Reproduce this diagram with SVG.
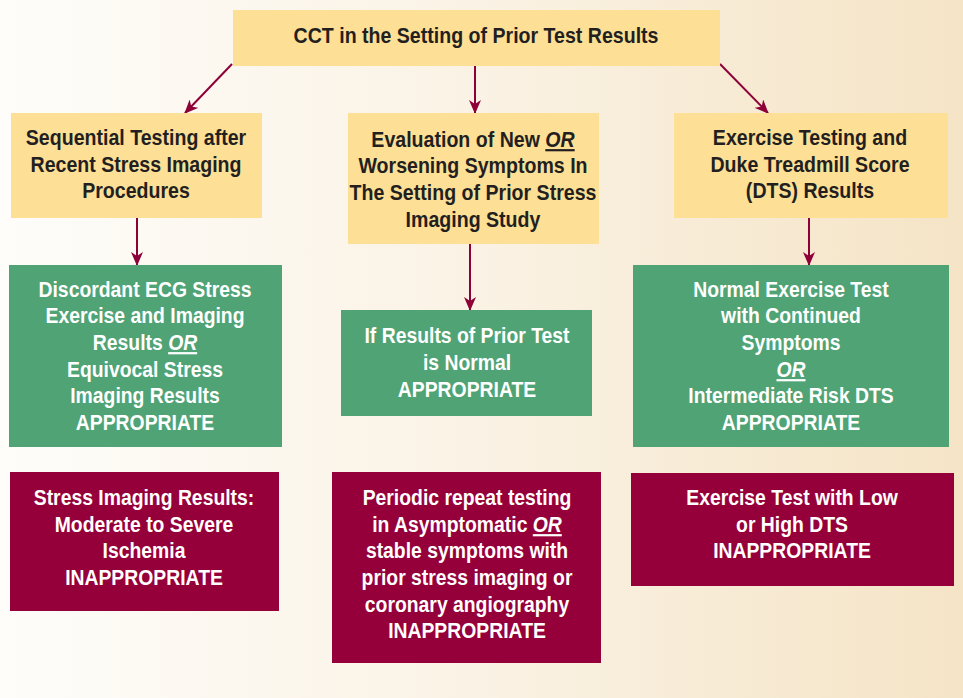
<svg xmlns="http://www.w3.org/2000/svg" width="963" height="698" viewBox="0 0 963 698">
<defs>
<linearGradient id="bg" x1="0" y1="0" x2="1" y2="0">
<stop offset="0" stop-color="#fefdfa"/>
<stop offset="0.5" stop-color="#faf2e4"/>
<stop offset="1" stop-color="#f5e4c6"/>
</linearGradient>
<marker id="ah" viewBox="0 0 14 12" refX="13" refY="6" markerWidth="14" markerHeight="12" markerUnits="userSpaceOnUse" orient="auto">
<path d="M0,0 L14,6 L0,12 L4,6 Z" fill="#8e0038"/>
</marker>
<style>
.y{fill:#fde096}
.g{fill:#4fa375}
.m{fill:#95003a}
text{font-family:"Liberation Sans",Arial,sans-serif;font-weight:bold;text-anchor:middle;font-size:22px}
.dk text{fill:#231f20}
.wt text{fill:#ffffff}
.or{font-style:italic;text-decoration:underline}
.c line{stroke:#8e0038;stroke-width:2;marker-end:url(#ah)}
</style>
</defs>
<rect width="963" height="698" fill="url(#bg)"/>
<g class="c" id="connectors">
<line x1="232" y1="64" x2="185" y2="113"/>
<line x1="475" y1="66" x2="475" y2="113"/>
<line x1="720" y1="64" x2="768" y2="113"/>
<line x1="137" y1="218" x2="137" y2="265"/>
<line x1="470" y1="244" x2="470" y2="310"/>
<line x1="809" y1="218" x2="809" y2="265"/>
</g>
<g id="top">
<rect class="y" x="233" y="10" width="487" height="56"/>
<g class="dk" transform="translate(476 0) scale(0.89 1)"><text x="0" y="43" font-size="24">CCT in the Setting of Prior Test Results</text></g>
</g>
<g id="seq">
<rect class="y" x="11" y="113" width="251" height="105"/>
<g class="dk" transform="translate(136 0) scale(0.89 1)">
<text x="0" y="145">Sequential Testing after</text>
<text x="0" y="172">Recent Stress Imaging</text>
<text x="0" y="198">Procedures</text>
</g>
</g>
<g id="eval">
<rect class="y" x="348" y="113" width="251" height="131"/>
<g class="dk" transform="translate(473 0) scale(0.89 1)">
<text x="0" y="147">Evaluation of New <tspan class="or">OR</tspan></text>
<text x="0" y="173">Worsening Symptoms In</text>
<text x="0" y="200">The Setting of Prior Stress</text>
<text x="0" y="227">Imaging Study</text>
</g>
</g>
<g id="exer">
<rect class="y" x="674" y="113" width="274" height="105"/>
<g class="dk" transform="translate(810 0) scale(0.89 1)">
<text x="0" y="145">Exercise Testing and</text>
<text x="0" y="172">Duke Treadmill Score</text>
<text x="0" y="198">(DTS) Results</text>
</g>
</g>
<g id="disc">
<rect class="g" x="9" y="265" width="273" height="182"/>
<g class="wt" transform="translate(145 0) scale(0.88 1)">
<text x="0" y="297">Discordant ECG Stress</text>
<text x="0" y="323">Exercise and Imaging</text>
<text x="0" y="350">Results <tspan class="or">OR</tspan></text>
<text x="0" y="377">Equivocal Stress</text>
<text x="0" y="403">Imaging Results</text>
<text x="0" y="430">APPROPRIATE</text>
</g>
</g>
<g id="normal">
<rect class="g" x="341" y="310" width="251" height="106"/>
<g class="wt" transform="translate(467 0) scale(0.88 1)">
<text x="0" y="343">If Results of Prior Test</text>
<text x="0" y="370">is Normal</text>
<text x="0" y="397">APPROPRIATE</text>
</g>
</g>
<g id="normex">
<rect class="g" x="633" y="265" width="316" height="182"/>
<g class="wt" transform="translate(791 0) scale(0.88 1)">
<text x="0" y="297">Normal Exercise Test</text>
<text x="0" y="323">with Continued</text>
<text x="0" y="350">Symptoms</text>
<text x="0" y="377" class="or">OR</text>
<text x="0" y="403">Intermediate Risk DTS</text>
<text x="0" y="430">APPROPRIATE</text>
</g>
</g>
<g id="stressimg">
<rect class="m" x="10" y="472" width="269" height="139"/>
<g class="wt" transform="translate(144 0) scale(0.88 1)">
<text x="0" y="505">Stress Imaging Results:</text>
<text x="0" y="532">Moderate to Severe</text>
<text x="0" y="558">Ischemia</text>
<text x="0" y="585">INAPPROPRIATE</text>
</g>
</g>
<g id="periodic">
<rect class="m" x="332" y="472" width="269" height="191"/>
<g class="wt" transform="translate(467 0) scale(0.88 1)">
<text x="0" y="505">Periodic repeat testing</text>
<text x="0" y="532">in Asymptomatic <tspan class="or">OR</tspan></text>
<text x="0" y="558">stable symptoms with</text>
<text x="0" y="585">prior stress imaging or</text>
<text x="0" y="612">coronary angiography</text>
<text x="0" y="638">INAPPROPRIATE</text>
</g>
</g>
<g id="lowhigh">
<rect class="m" x="631" y="473" width="323" height="113"/>
<g class="wt" transform="translate(792 0) scale(0.88 1)">
<text x="0" y="505">Exercise Test with Low</text>
<text x="0" y="532">or High DTS</text>
<text x="0" y="558">INAPPROPRIATE</text>
</g>
</g>
</svg>
